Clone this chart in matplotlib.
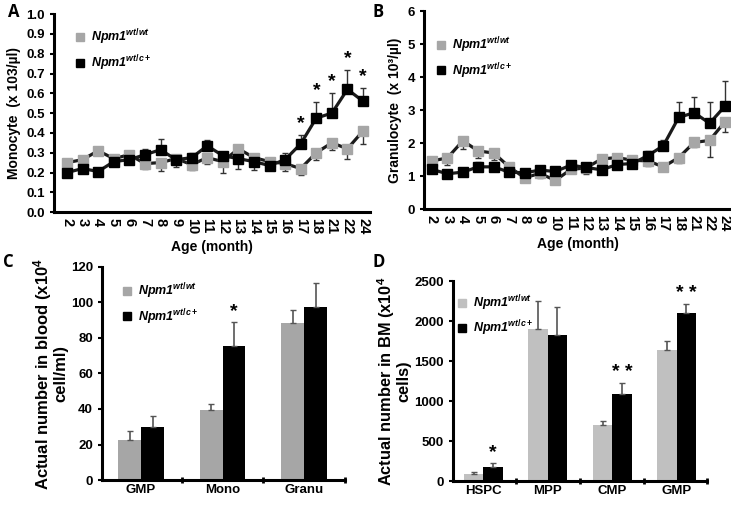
import numpy as np
import matplotlib.pyplot as plt
from matplotlib.lines import Line2D

plt.rcParams['font.family'] = ['Liberation Sans', 'DejaVu Sans']
plt.rcParams['font.weight'] = 'bold'
plt.rcParams['axes.labelweight'] = 'bold'
plt.rcParams['mathtext.fontset'] = 'custom'
plt.rcParams['mathtext.it'] = 'Liberation Sans:italic:bold'
plt.rcParams['mathtext.rm'] = 'Liberation Sans:bold'

# ---- data ----
ages = ["2", "3", "4", "5", "6", "7", "8", "9", "10", "11", "12", "13",
        "14", "15", "16", "17", "18", "21", "22", "24"]

mono_wt = [0.25, 0.265, 0.31, 0.27, 0.29, 0.245, 0.25, 0.27, 0.24, 0.275,
           0.255, 0.32, 0.275, 0.255, 0.245, 0.22, 0.30, 0.35, 0.32, 0.41]
mono_wt_err = [0.01, 0.01, 0.02, 0.01, 0.01, 0.025, 0.04, 0.04, 0.025, 0.03,
               0.055, 0.10, 0.06, 0.01, 0.035, 0.035, 0.035, 0.035, 0.05, 0.065]
mono_mut = [0.20, 0.22, 0.205, 0.255, 0.265, 0.29, 0.315, 0.265, 0.275, 0.335,
            0.285, 0.27, 0.255, 0.235, 0.265, 0.345, 0.475, 0.50, 0.62, 0.56]
mono_mut_err = [0.005, 0.02, 0.02, 0.01, 0.01, 0.03, 0.055, 0.015, 0.025, 0.03,
                0.02, 0.01, 0.01, 0.01, 0.035, 0.045, 0.08, 0.10, 0.10, 0.065]
mono_sig = [15, 16, 17, 18, 19]

gran_wt = [1.46, 1.55, 2.07, 1.76, 1.70, 1.28, 0.95, 1.08, 0.87, 1.20,
           1.25, 1.52, 1.56, 1.48, 1.46, 1.28, 1.56, 2.02, 2.08, 2.65]
gran_wt_err = [0.05, 0.2, 0.25, 0.2, 0.2, 0.05, 0.05, 0.15, 0.05, 0.05,
               0.2, 0.05, 0.15, 0.05, 0.15, 0.13, 0.15, 0.15, 0.5, 0.32]
gran_mut = [1.20, 1.07, 1.12, 1.28, 1.28, 1.12, 1.10, 1.18, 1.14, 1.33,
            1.26, 1.19, 1.35, 1.38, 1.62, 1.92, 2.78, 2.92, 2.60, 3.12]
gran_mut_err = [0.03, 0.03, 0.1, 0.15, 0.05, 0.05, 0.03, 0.05, 0.03, 0.05,
                0.05, 0.3, 0.05, 0.05, 0.15, 0.18, 0.48, 0.48, 0.65, 0.75]

blood_cats = ["GMP", "Mono", "Granu"]
blood_wt = [22.5, 39.5, 88.5]
blood_wt_err = [5, 3.5, 7.5]
blood_mut = [30, 75.5, 97.5]
blood_mut_err = [6, 13.5, 13.5]
blood_sig = ["", "*", ""]

bm_cats = ["HSPC", "MPP", "CMP", "GMP"]
bm_wt = [88, 1905, 700, 1635]
bm_wt_err = [22, 340, 55, 115]
bm_mut = [175, 1830, 1090, 2095]
bm_mut_err = [45, 340, 140, 120]
bm_sig = ["*", "", "* *", "* *"]

GRAY = "#a6a6a6"
LGRAY = "#c0c0c0"
lab_wt = r"Npm1$^{wt/wt}$"
lab_mut = r"Npm1$^{wt/c+}$"

fig = plt.figure(figsize=(7.31, 5.05), dpi=100)


def style(ax):
    for s in ["top", "right"]:
        ax.spines[s].set_visible(False)
    for s in ["left", "bottom"]:
        ax.spines[s].set_linewidth(2.2)
    ax.tick_params(axis="y", labelsize=9.5, width=1.5, length=3)
    for t in ax.get_xticklabels() + ax.get_yticklabels():
        t.set_fontweight("bold")


def legend(ax, anchor, c1):
    h = [Line2D([], [], ls="none", marker="s", ms=6, color=c1),
         Line2D([], [], ls="none", marker="s", ms=6, color="black")]
    ax.legend(h, [lab_wt, lab_mut], loc="upper left", bbox_to_anchor=anchor,
              frameon=False, handlelength=0.8, handletextpad=0.5,
              borderpad=0, borderaxespad=0, labelspacing=0.5,
              prop={"style": "italic", "weight": "bold", "size": 9})


def line_panel(ax, wt, wt_err, mut, mut_err, ylim, yticks, ylabel, xlim):
    x = np.arange(len(ages))
    ax.errorbar(x, wt, yerr=[wt_err, np.zeros(len(x))], fmt="none",
                ecolor="#333333", elinewidth=1, capsize=2.5, zorder=1)
    ax.errorbar(x, mut, yerr=[np.zeros(len(x)), mut_err], fmt="none",
                ecolor="#333333", elinewidth=1, capsize=2.5, zorder=1)
    ax.plot(x, wt, color="#1a1a1a", lw=2.3, marker="s", ms=6.5,
            mfc=GRAY, mec=GRAY, zorder=2)
    ax.plot(x, mut, color="#1a1a1a", lw=2.3, marker="s", ms=6.5,
            mfc="black", mec="black", zorder=3)
    ax.set_xticks(x)
    ax.set_xticklabels(ages, rotation=270)
    ax.set_xlim(*xlim)
    ax.set_ylim(*ylim)
    ax.set_yticks(yticks)
    ax.set_ylabel(ylabel, fontsize=10)
    ax.set_xlabel("Age (month)", fontsize=10)
    ax.tick_params(axis="x", length=0, pad=4, labelsize=10.5)


# A
axA = fig.add_axes([0.074, 0.580, 0.432, 0.392])
line_panel(axA, mono_wt, mono_wt_err, mono_mut, mono_mut_err, (0, 1.0),
           np.arange(0, 1.01, 0.1), "Monocyte  (x 103/\u00b5l)", (-0.83, 19.44))
axA.set_yticklabels([f"{v:.1f}" for v in np.arange(0, 1.01, 0.1)])
for i in mono_sig:
    axA.text(i, mono_mut[i] + mono_mut_err[i] + 0.015, "*", ha="center",
             va="bottom", fontsize=14)
style(axA)
legend(axA, (0.066, 0.934), GRAY)

# B
axB = fig.add_axes([0.580, 0.586, 0.42, 0.392])
line_panel(axB, gran_wt, gran_wt_err, gran_mut, gran_mut_err, (0, 6),
           range(0, 7), "Granulocyte  (x 10\u00b3/\u00b5l)", (-0.52, 19.39))
style(axB)
legend(axB, (0.039, 0.879), GRAY)

# C
axC = fig.add_axes([0.1395, 0.0495, 0.3324, 0.4218])
xc = np.arange(len(blood_cats))
w = 0.28
axC.bar(xc - w / 2, blood_wt, w, color=GRAY, yerr=[np.zeros(3), blood_wt_err],
        ecolor="#555555", capsize=2.5, error_kw={"elinewidth": 1.2})
axC.bar(xc + w / 2, blood_mut, w, color="black", yerr=[np.zeros(3), blood_mut_err],
        ecolor="#555555", capsize=2.5, error_kw={"elinewidth": 1.2})
for i, s in enumerate(blood_sig):
    if s:
        axC.text(xc[i] + w / 2, blood_mut[i] + blood_mut_err[i] + 1, s,
                 ha="center", va="bottom", fontsize=14)
axC.set_xlim(-0.48, 2.5)
axC.set_ylim(0, 120)
axC.set_yticks(range(0, 121, 20))
axC.set_xticks(xc)
axC.set_xticklabels(blood_cats)
axC.set_xticks([0.5, 1.5, 2.5], minor=True)
axC.tick_params(axis="x", which="major", length=0, pad=3, labelsize=9.5)
axC.tick_params(axis="x", which="minor", length=4, width=2, direction="inout")
axC.set_ylabel("Actual number in blood (x10$^4$\ncell/ml)", fontsize=12,
               linespacing=0.95, labelpad=2)
style(axC)
legend(axC, (0.082, 0.934), GRAY)

# D
axD = fig.add_axes([0.6197, 0.0475, 0.3475, 0.396])
xd = np.arange(len(bm_cats))
w = 0.30
axD.bar(xd - w / 2, bm_wt, w, color=LGRAY, yerr=[np.zeros(4), bm_wt_err],
        ecolor="#555555", capsize=2.5, error_kw={"elinewidth": 1.2})
axD.bar(xd + w / 2, bm_mut, w, color="black", yerr=[np.zeros(4), bm_mut_err],
        ecolor="#555555", capsize=2.5, error_kw={"elinewidth": 1.2})
for i, s in enumerate(bm_sig):
    if s:
        axD.text(xd[i] + w / 2, bm_mut[i] + bm_mut_err[i] + 25, s,
                 ha="center", va="bottom", fontsize=14)
axD.set_xlim(-0.47, 3.47)
axD.set_ylim(0, 2500)
axD.set_yticks(range(0, 2501, 500))
axD.set_xticks(xd)
axD.set_xticklabels(bm_cats)
axD.set_xticks([0.5, 1.5, 2.5, 3.47], minor=True)
axD.tick_params(axis="x", which="major", length=0, pad=3, labelsize=9.5)
axD.tick_params(axis="x", which="minor", length=4, width=2, direction="inout")
axD.set_ylabel("Actual number in BM (x10$^4$\ncells)", fontsize=11.8,
               linespacing=0.95, labelpad=2)
style(axD)
legend(axD, (0.016, 0.94), LGRAY)

# panel letters
for lbl, (px, py) in zip("ABCD", [(8, 12), (373, 12), (3, 262), (373, 262)]):
    fig.text(px / 731, 1 - py / 505, lbl, fontsize=12, fontweight="bold",
             va="center", family="Open Sans")

fig.savefig("out.png", dpi=100)
